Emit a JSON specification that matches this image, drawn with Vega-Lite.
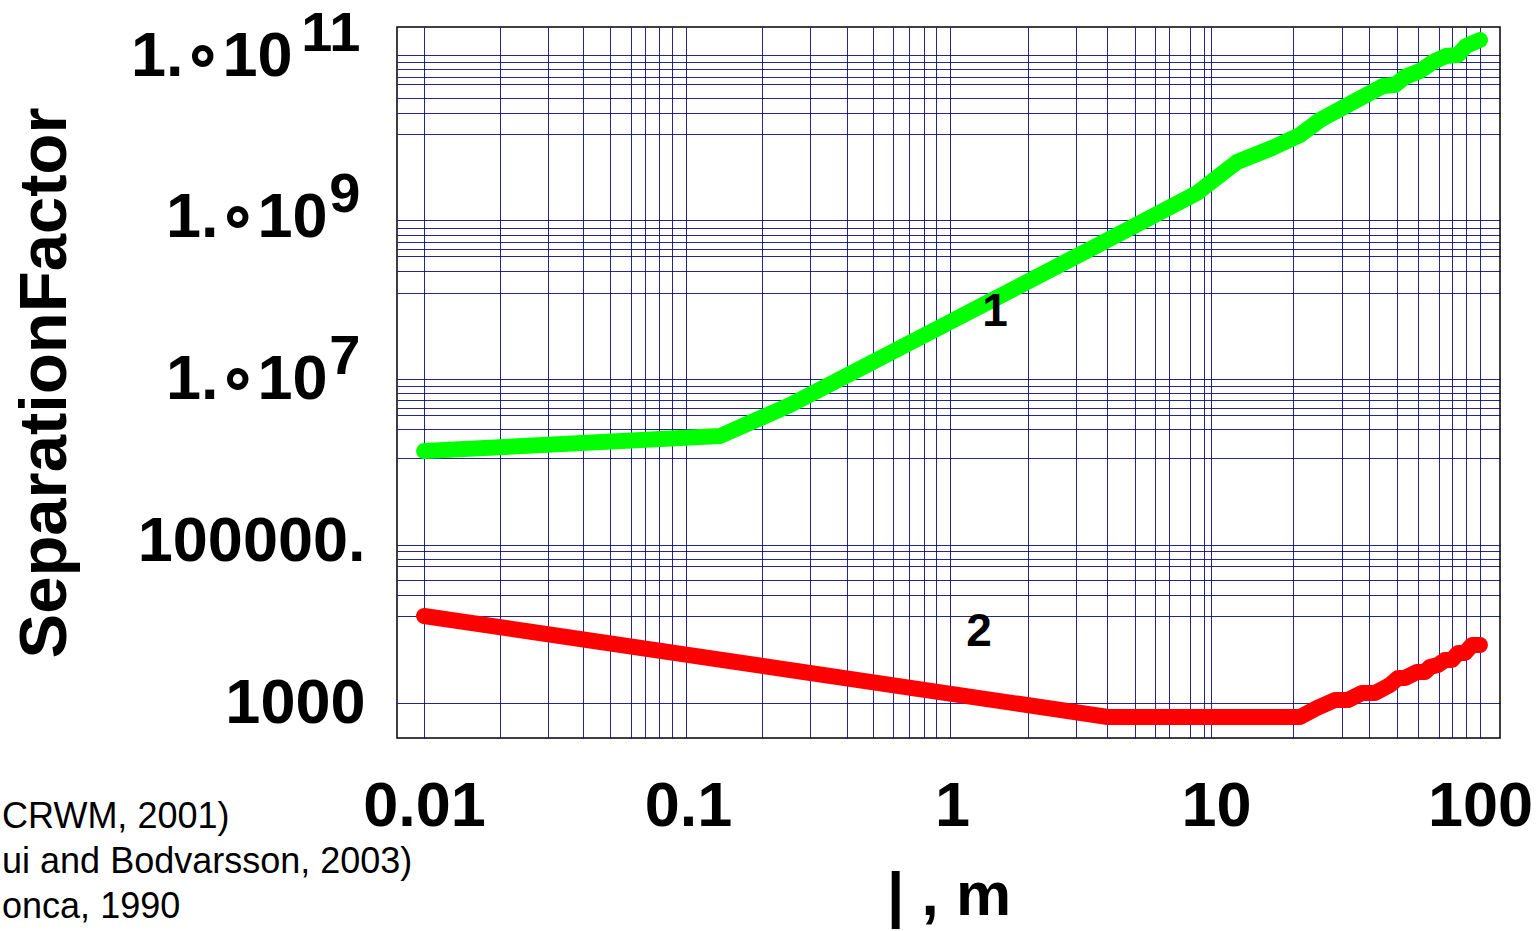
{
  "$schema": "https://vega.github.io/schema/vega-lite/v6.json",
  "width": 1103,
  "height": 711,
  "autosize": "none",
  "padding": {"left": 397, "top": 27, "right": 39, "bottom": 193},
  "background": "white",
  "config": {
    "view": {"stroke": "black", "strokeWidth": 1.5},
    "font": "Liberation Sans",
    "axis": {"ticks": false, "domain": false}
  },
  "datasets": {
    "curves": [
      {"curve": "1", "x": 0.01, "y": 1306000},
      {"curve": "1", "x": 0.1322, "y": 2002000},
      {"curve": "1", "x": 0.2434, "y": 4838000},
      {"curve": "1", "x": 0.9826, "y": 51400000},
      {"curve": "1", "x": 3.636, "y": 473600000},
      {"curve": "1", "x": 8.472, "y": 2023000000},
      {"curve": "1", "x": 12.01, "y": 4890000000},
      {"curve": "1", "x": 16.3, "y": 7280000000},
      {"curve": "1", "x": 20.81, "y": 10550000000},
      {"curve": "1", "x": 24.77, "y": 16170000000},
      {"curve": "1", "x": 42.92, "y": 42600000000},
      {"curve": "1", "x": 47.64, "y": 43800000000},
      {"curve": "1", "x": 51.96, "y": 55000000000},
      {"curve": "1", "x": 59.26, "y": 65200000000},
      {"curve": "1", "x": 66.37, "y": 84300000000},
      {"curve": "1", "x": 74.33, "y": 100000000000},
      {"curve": "1", "x": 82.56, "y": 103000000000},
      {"curve": "1", "x": 88.5, "y": 133000000000},
      {"curve": "1", "x": 100, "y": 157700000000},
      {"curve": "2", "x": 0.01, "y": 11910},
      {"curve": "2", "x": 3.898, "y": 671},
      {"curve": "2", "x": 20.81, "y": 671},
      {"curve": "2", "x": 24.13, "y": 867.5},
      {"curve": "2", "x": 28.22, "y": 1089},
      {"curve": "2", "x": 31.62, "y": 1089},
      {"curve": "2", "x": 35.73, "y": 1329},
      {"curve": "2", "x": 40.02, "y": 1329},
      {"curve": "2", "x": 45.61, "y": 1670},
      {"curve": "2", "x": 48.91, "y": 2038},
      {"curve": "2", "x": 51.96, "y": 2038},
      {"curve": "2", "x": 57.73, "y": 2417},
      {"curve": "2", "x": 61.89, "y": 2417},
      {"curve": "2", "x": 64.64, "y": 2787},
      {"curve": "2", "x": 69.31, "y": 2951},
      {"curve": "2", "x": 73.7, "y": 3402},
      {"curve": "2", "x": 78.32, "y": 3402},
      {"curve": "2", "x": 82.56, "y": 4153},
      {"curve": "2", "x": 87.75, "y": 4153},
      {"curve": "2", "x": 93.26, "y": 5214},
      {"curve": "2", "x": 100, "y": 5214}
    ],
    "labels": [
      {"t": "1", "x": 1.455, "y": 68300000},
      {"t": "2", "x": 1.266, "y": 7550}
    ],
    "notes": [
      {"t": "CRWM, 2001)", "x": 0.000252, "y": 38.9},
      {"t": "ui and Bodvarsson, 2003)", "x": 0.000252, "y": 10.8},
      {"t": "onca, 1990", "x": 0.000252, "y": 3.0}
    ]
  },
  "resolve": {"axis": {"x": "independent", "y": "independent"}},
  "layer": [
    {
      "data": {"name": "curves"},
      "mark": {"type": "line", "strokeWidth": 16, "strokeCap": "round", "strokeJoin": "round"},
      "encoding": {
        "x": {
          "field": "x", "type": "quantitative",
          "scale": {"type": "log", "domain": [0.007898, 119.1], "nice": false},
          "axis": {
            "orient": "bottom", "labels": false, "title": null, "grid": true,
            "gridColor": "#000080", "gridWidth": 1, "gridOpacity": 0.85,
            "values": [0.01, 0.01941, 0.02949, 0.04002, 0.05064, 0.06083, 0.06873, 0.07766, 0.08699, 0.09827, 0.1907, 0.2898, 0.4, 0.5, 0.6, 0.69, 0.78, 0.87, 0.98, 1.94, 2.95, 3.865, 4.934, 5.873, 6.637, 7.97, 9.005, 9.57, 19.57, 30.0, 37.97, 48.5, 58.2, 69.9, 78.3, 88.5, 100]
          }
        },
        "y": {
          "field": "y", "type": "quantitative",
          "scale": {"type": "log", "domain": [369.2, 228400000000], "nice": false},
          "axis": {
            "orient": "left", "labels": false, "title": null, "grid": true,
            "gridColor": "#000080", "gridWidth": 1, "gridOpacity": 0.85,
            "values": [102900000000, 84300000000, 69100000000, 55000000000, 45100000000, 30250000000, 19740000000, 10850000000, 938000000, 747000000, 612000000, 501500000, 410800000, 336500000, 219600000, 117400000, 10144000, 8310000, 6810000, 5580000, 4440000, 3640000, 2443000, 1070000, 89870, 75740, 60330, 49430, 33180, 21650, 11910, 1000]
          }
        },
        "color": {
          "field": "curve", "type": "nominal",
          "scale": {"domain": ["1", "2"], "range": ["#00ff00", "#ff0000"]},
          "legend": null
        }
      }
    },
    {
      "data": {"name": "labels"},
      "mark": {"type": "text", "fontSize": 46, "fontWeight": "bold", "font": "Liberation Sans", "color": "black"},
      "encoding": {
        "x": {
          "field": "x", "type": "quantitative",
          "scale": {"type": "log", "domain": [0.007898, 119.1], "nice": false},
          "axis": {
            "orient": "bottom", "grid": false, "values": [0.01, 0.1, 1, 10, 100], "format": "~g",
            "labelFont": "Liberation Sans", "labelFontSize": 63, "labelFontWeight": "bold", "labelColor": "black",
            "labelPadding": 37, "labelFlush": false, "labelOverlap": false, "labelLimit": 0,
            "title": "| , m", "titleFont": "Liberation Sans", "titleFontSize": 62, "titleFontWeight": "bold", "titleColor": "black", "titlePadding": 27
          }
        },
        "y": {
          "field": "y", "type": "quantitative",
          "scale": {"type": "log", "domain": [369.2, 228400000000], "nice": false},
          "axis": {
            "orient": "left", "grid": false, "values": [1000, 100000, 10000000, 1000000000, 100000000000],
            "labelExpr": "datum.value > 5e4 && datum.value < 5e5 ? '100000.' : datum.value < 5e3 ? '1000' : '1.∘10'",
            "labelFont": "Liberation Sans", "labelFontSize": 63, "labelFontWeight": "bold", "labelColor": "black",
            "labelPadding": {"condition": [{"test": "datum.value > 5e10", "value": 105}, {"test": "datum.value > 5e6", "value": 70}], "value": 32},
            "labelFlush": false, "labelOverlap": false, "labelLimit": 0,
            "title": "SeparationFactor", "titleFont": "Liberation Sans", "titleFontSize": 67, "titleFontWeight": "bold", "titleColor": "black", "titlePadding": 118
          }
        },
        "text": {"field": "t", "type": "nominal"}
      }
    },
    {
      "data": {"name": "notes"},
      "mark": {"type": "text", "fontSize": 36, "align": "left", "baseline": "middle", "font": "Liberation Sans", "color": "black"},
      "encoding": {
        "x": {
          "field": "x", "type": "quantitative",
          "scale": {"type": "log", "domain": [0.007898, 119.1], "nice": false},
          "axis": null
        },
        "y": {
          "field": "y", "type": "quantitative",
          "scale": {"type": "log", "domain": [369.2, 228400000000], "nice": false},
          "axis": {
            "orient": "left", "grid": false, "values": [10000000, 1000000000, 100000000000],
            "labelExpr": "datum.value > 5e10 ? '11' : datum.value > 5e8 ? '9' : '7'",
            "labelFont": "Liberation Sans", "labelFontSize": 56, "labelFontWeight": "bold", "labelColor": "black",
            "labelPadding": 37, "labelOffset": -23, "labelFlush": false, "labelOverlap": false, "title": null
          }
        },
        "text": {"field": "t", "type": "nominal"}
      }
    }
  ]
}
